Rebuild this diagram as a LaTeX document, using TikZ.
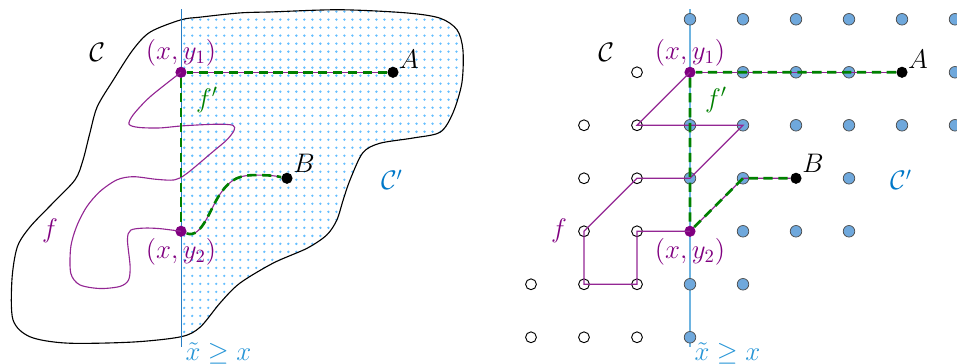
\documentclass[tikz,border=0pt]{standalone}
\usetikzlibrary{patterns.meta}
\definecolor{lineblue}{RGB}{40,125,195}
\definecolor{lightline}{RGB}{110,180,225}
\definecolor{patblue}{RGB}{100,190,255}
\definecolor{dotblue}{RGB}{111,168,220}
\definecolor{cblue}{RGB}{0,120,200}
\definecolor{tblue}{RGB}{40,150,215}
\definecolor{fgreen}{RGB}{0,128,0}
\definecolor{fpurple}{RGB}{128,0,128}
\tikzdeclarepattern{
	name=bigdots,
	type=uncolored,
	bounding box={(-1pt,-1pt) and (1pt,1pt)},
	tile size={(4.3pt,4.3pt)},
	code={\fill (0pt,0pt) circle (0.7pt);}
}
\tikzset{
	mydash/.style={dash pattern=on 5pt off 3pt},
	fprime/.style={fgreen, line width=1.4pt, mydash},
	fpath/.style={fpurple!85, line width=0.6pt},
	pt/.style={circle, fill, inner sep=0pt, minimum size=6pt},
	opendot/.style={circle, draw, inner sep=0pt, minimum size=5.8pt, line width=0.5pt},
	bluedot/.style={circle, draw=black!70, fill=dotblue, inner sep=0pt, minimum size=6.2pt, line width=0.4pt},
	lab/.style={font=\Large}
}
\newcommand{\blobpath}{plot[smooth cycle, tension=0.5] coordinates {
	(3.0,5.99) (3.36,6.04) (4.11,6.12) (4.74,6.14) (6.0,6.18) (7.26,6.12) (7.89,6.02)
	(8.21,5.80) (8.32,5.42) (8.30,4.80) (8.13,4.23) (7.89,3.87) (7.38,3.76) (6.75,3.66)
	(6.43,3.48) (6.19,2.97) (6.06,2.59) (5.94,2.21) (5.75,1.93) (5.38,1.68) (4.74,1.40)
	(4.11,1.02) (3.74,0.65) (3.36,0.19) (3.0,0.01) (2.09,-0.09) (0.85,-0.11) (0.15,0.01)
	(-0.17,0.33) (-0.19,1.08) (-0.09,1.70) (0.15,2.08) (0.58,2.53) (1.0,2.97) (1.15,3.34)
	(1.28,3.85) (1.42,4.35) (1.72,4.85) (2.09,5.42) (2.42,5.76)}}

\begin{document}
\begin{tikzpicture}
	\useasboundingbox (0,0) rectangle (18.057,6.868);

	% continuous picture
	\begin{scope}[shift={(0.415,0.504)}]
		\begin{scope}
			\clip (3,-0.5) rectangle (9,7);
			\fill[pattern=bigdots, pattern color=patblue] \blobpath;
		\end{scope}
		\draw[line width=0.6pt] \blobpath;
		\coordinate (Ltop) at (3,6.19);
		\coordinate (Lbot) at (3,-0.18);
		\draw[lineblue, line width=0.5pt] (Ltop) -- (Lbot);
		\node[pt, fpurple] (L1) at (3,5) {};
		\node[pt, fpurple] (L2) at (3,2) {};
		\node[pt] (LA) at (7,5) {};
		\node[pt] (LB) at (5,3) {};
		\draw[fpath] plot[smooth, tension=0.5] coordinates {(L1.center) (2.42,4.54) (2.1,4.2)
			(2.02,4.02) (2.2,3.96) (2.6,3.95) (3.04,3.99) (3.67,4.02) (3.98,4.0) (4.0,3.9)
			(3.86,3.72) (3.6,3.5) (3.11,3.09) (2.88,2.97) (2.54,2.98) (2.1,3.03) (1.79,2.97)
			(1.47,2.75) (1.22,2.46) (1.03,2.09) (0.92,1.7) (0.92,1.21) (1.09,0.99) (1.47,0.92)
			(1.85,0.96) (2.01,1.08) (2.04,1.34) (1.99,1.84) (2.05,2.02) (2.3,2.06) (2.6,2.05)
			(L2.center)};
		\draw[fpath] (L1) -- (LA);
		\draw[fpath] (L2) .. controls (3.4,1.85) and (3.55,2.45) .. (3.75,2.72)
			.. controls (3.95,3.0) and (4.1,3.07) .. (4.5,3.06) .. controls (4.75,3.05) .. (LB);
		\draw[fprime] (LA) -- (L1) -- (L2);
		\draw[fprime] (L2) .. controls (3.4,1.85) and (3.55,2.45) .. (3.75,2.72)
			.. controls (3.95,3.0) and (4.1,3.07) .. (4.5,3.06) .. controls (4.75,3.05) .. (LB);
		\node[lab] (LC) at (1.42,5.38) {$\mathcal{C}$};
		\node[lab, fpurple] (Ly1) at (3,5.36) {$(x,y_1)$};
		\node[lab, fgreen] (Lfp) at (3.49,4.48) {$f'$};
		\node[lab] (LAl) at (7.3,5.25) {$A$};
		\node[lab] (LBl) at (5.32,3.29) {$B$};
		\node[lab, cblue] (LCp) at (6.98,2.97) {$\mathcal{C}'$};
		\node[lab, fpurple] (Lf) at (0.53,2.0) {$f$};
		\node[lab, fpurple] (Ly2) at (3,1.61) {$(x,y_2)$};
		\node[lab, tblue, anchor=west, inner sep=0pt] (Lx) at (3.08,-0.3) {$\tilde{x} \geq x$};
	\end{scope}

	% discrete picture
	\begin{scope}[shift={(10.019,0.504)}]
		\coordinate (Rtop) at (3,6.19);
		\coordinate (Rbot) at (3,-0.18);
		\draw[lightline, line width=1pt] (Rtop) -- (Rbot);
		\foreach \x/\y in {2/5, 1/4, 2/4, 1/3, 2/3, 1/2, 2/2, 0/1, 1/1, 2/1, 0/0, 1/0, 2/0}
			\node[opendot] (r\x\y) at (\x,\y) {};
		\foreach \x/\y in {3/6, 4/6, 5/6, 6/6, 7/6, 8/6, 4/5, 5/5, 6/5, 8/5, 3/4, 4/4, 5/4, 6/4, 7/4, 8/4,
			3/3, 4/3, 6/3, 4/2, 5/2, 6/2, 3/1, 4/1, 3/0}
			\node[bluedot] (r\x\y) at (\x,\y) {};
		\node[pt, fpurple] (R1) at (3,5) {};
		\node[pt, fpurple] (R2) at (3,2) {};
		\node[pt] (RA) at (7,5) {};
		\node[pt] (RB) at (5,3) {};
		\draw[fpath] (R1.center) -- (r24.center) -- (r44.center) -- (r33.center) -- (r23.center)
			-- (r12.center) -- (r11.center) -- (r21.center) -- (r22.center) -- (R2.center);
		\draw[fpath] (R1) -- (RA);
		\draw[fpath] (R2) -- (r43.center) -- (RB);
		\draw[fprime] (RA) -- (R1) -- (R2) -- (r43.center) -- (RB);
		\node[lab] (RC) at (1.42,5.38) {$\mathcal{C}$};
		\node[lab, fpurple] (Ry1) at (3,5.36) {$(x,y_1)$};
		\node[lab, fgreen] (Rfp) at (3.49,4.48) {$f'$};
		\node[lab] (RAl) at (7.3,5.25) {$A$};
		\node[lab] (RBl) at (5.32,3.29) {$B$};
		\node[lab, cblue] (RCp) at (6.98,2.97) {$\mathcal{C}'$};
		\node[lab, fpurple] (Rf) at (0.53,2.0) {$f$};
		\node[lab, fpurple] (Ry2) at (3,1.61) {$(x,y_2)$};
		\node[lab, tblue, anchor=west, inner sep=0pt] (Rx) at (3.08,-0.3) {$\tilde{x} \geq x$};
	\end{scope}
\end{tikzpicture}
\end{document}
